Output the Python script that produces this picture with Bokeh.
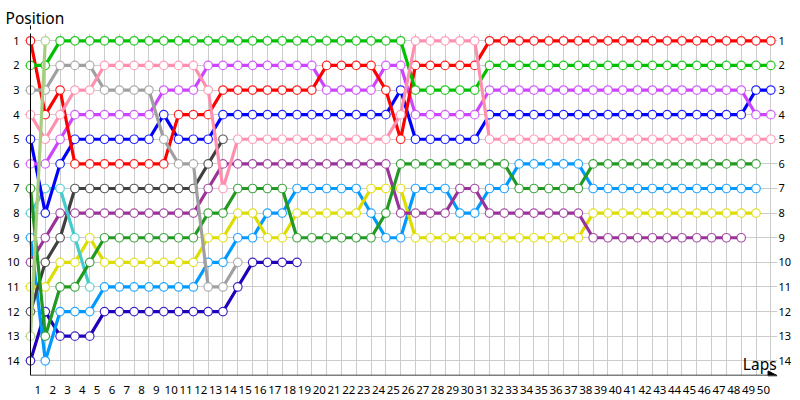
from bokeh.plotting import figure
from bokeh.models import (Range1d, FixedTicker, Arrow, NormalHead, Label,
                          LinearAxis, CustomJSTickFormatter)
from bokeh.embed import file_html
from bokeh.resources import INLINE

laps = list(range(0, 51))
position_ticks = list(range(1, 15))
lap_ticks = [k - 0.5 for k in range(1, 51)]

red = [1, 4, 3] + [6] * 7 + [4] * 3 + [3] * 7 + [2] * 4 + [3, 5] + [2] * 5 + [1] * 20
green = [2, 2] + [1] * 24 + [3] * 5 + [2] * 20
olive = [13, 1]
gray = [3, 3, 2, 2, 2, 3, 3, 3, 3, 5, 6, 6, 11, 11, 10]
pink = [4, 5, 4, 3, 3] + [2] * 7 + [3, 7] + [5] * 11 + [4] + [1] * 5 + [5] * 20
magenta = [6, 6, 5] + [4] * 6 + [3] * 3 + [2] * 8 + [3] * 4 + [2] * 2 + [4] * 5 + [3] * 18 + [4] * 2
blue = [5, 8, 6] + [5] * 6 + [4] + [5] * 3 + [4] * 12 + [3] + [5] * 5 + [4] * 18 + [3] * 2
dark_green = [7, 13, 11, 11, 10] + [9] * 7 + [8] * 2 + [7] * 4 + [9] * 6 + [8] + [6] * 8 + [7] * 5 + [6] * 12
teal = [8, 7, 7, 9, 11]
dark_gray = [12, 10, 9] + [7] * 9 + [6, 5]
purple = [10, 9] + [8] * 10 + [7] + [6] * 12 + [8] * 4 + [7] * 2 + [8] * 7 + [9] * 11
yellow = [11, 11, 10, 10, 9] + [10] * 7 + [9] * 2 + [8] * 2 + [9] * 2 + [8] * 5 + [7] * 3 + [9] * 12 + [8] * 12
light_blue = [9, 14] + [12] * 3 + [11] * 7 + [10] * 2 + [9] * 2 + [8] * 2 + [7] * 5 + [8] + [9] * 2 + [7] * 3 + [8] * 2 + [7] * 2 + [6] * 5 + [7] * 12
dark_blue = [14, 12] + [13] * 3 + [12] * 9 + [11] + [10] * 4

series = [
    (dark_blue, "#2200BB"),
    (light_blue, "#0099FF"),
    (yellow, "#DDDD00"),
    (purple, "#993399"),
    (dark_gray, "#404040"),
    (teal, "#44CCCC"),
    (dark_green, "#229922"),
    (blue, "#0000FF"),
    (magenta, "#CC44FF"),
    (red, "#FF0000"),
    (green, "#00C000"),
    (gray, "#A0A0A0"),
    (pink, "#FF8FAF"),
    (olive, "#A8CC80"),
]

p = figure(width=800, height=400, output_backend="svg", toolbar_location=None,
           x_range=Range1d(-0.405, 50.45), y_range=Range1d(14.597, 0.7034),
           min_border_left=24, min_border_right=23, min_border_top=33,
           min_border_bottom=25, background_fill_color="white",
           border_fill_color="white", title="Position")
p.outline_line_color = None
p.title.text_font = "Noto Sans"
p.title.text_font_size = "15.5px"
p.title.text_font_style = "normal"
p.title.text_color = "black"
p.title.align = "left"
p.title.offset = -19
p.title.standoff = 9

tick_font = "Noto Sans"

# y axis left
ya = p.yaxis[0]
ya.ticker = FixedTicker(ticks=position_ticks)
ya.axis_line_color = None
ya.major_tick_line_color = None
ya.minor_tick_line_color = None
ya.major_tick_out = 0
ya.major_tick_in = 0
ya.major_label_standoff = 5
ya.major_label_text_font = tick_font
ya.major_label_text_font_size = "11px"
ya.major_label_text_color = "black"

# y axis right
yr = LinearAxis(ticker=FixedTicker(ticks=position_ticks))
yr.axis_line_color = None
yr.major_tick_line_color = None
yr.minor_tick_line_color = None
yr.major_tick_out = 0
yr.major_tick_in = 0
yr.major_label_standoff = 1
yr.major_label_text_font = tick_font
yr.major_label_text_font_size = "11px"
yr.major_label_text_color = "black"
p.add_layout(yr, "right")

# x axis
xa = p.xaxis[0]
xa.ticker = FixedTicker(ticks=lap_ticks)
xa.formatter = CustomJSTickFormatter(code="return String(Math.round(tick + 0.5));")
xa.axis_line_color = None
xa.major_tick_line_color = None
xa.minor_tick_line_color = None
xa.major_tick_out = 0
xa.major_tick_in = 0
xa.major_label_standoff = 10
xa.major_label_text_font = tick_font
xa.major_label_text_font_size = "11.5px"
xa.major_label_text_color = "black"

p.xgrid.ticker = FixedTicker(ticks=laps)
p.ygrid.ticker = FixedTicker(ticks=position_ticks)
p.xgrid.grid_line_color = "#CCCCCC"
p.ygrid.grid_line_color = "#CCCCCC"
p.xgrid.grid_line_width = 1
p.ygrid.grid_line_width = 1

for data, color in series:
    xs = laps[:len(data)]
    p.line(xs, data, line_color=color, line_width=3.2)
    p.scatter(xs, data, size=8.5, marker="circle", fill_color="white",
              line_color=color, line_width=1.2, line_alpha=0.85)

# axis lines with arrow heads
p.add_layout(Arrow(x_start=0, y_start=14.597, x_end=50.42, y_end=14.597,
                   line_color="black", line_width=1.5,
                   end=NormalHead(size=9, fill_color="black", line_color="black")))
p.add_layout(Arrow(x_start=0, y_start=14.597, x_end=0, y_end=0.378,
                   line_color="black", line_width=1,
                   end=NormalHead(size=4, fill_color="black", line_color="black")))

p.add_layout(Label(x=50.39, y=14.15, text="Laps", text_font="Noto Sans",
                   text_font_size="15.5px", text_baseline="middle",
                   text_align="right", text_color="black"))

open("out.html", "w").write(file_html(p, INLINE))
